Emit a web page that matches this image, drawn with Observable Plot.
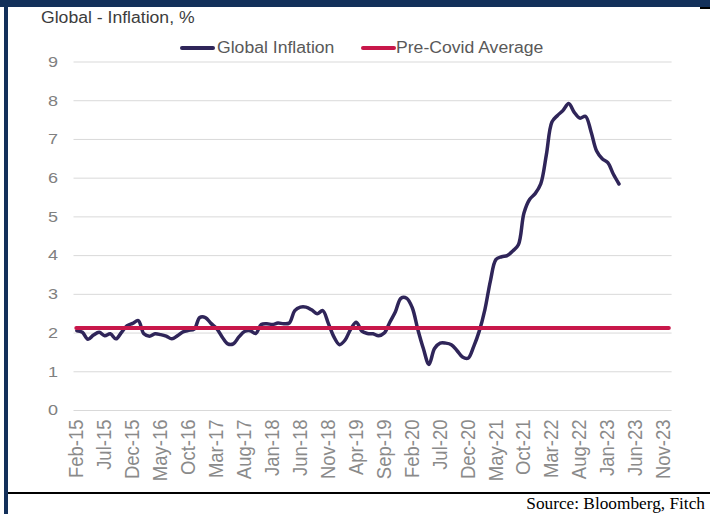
<!DOCTYPE html>
<html>
<head>
<meta charset="utf-8">
<script src="https://cdn.jsdelivr.net/npm/d3@7"></script>
<script src="https://cdn.jsdelivr.net/npm/@observablehq/plot@0.6"></script>
<style>
  body { margin: 0; background: #fff; }
  #wrap { position: relative; width: 710px; height: 514px; overflow: hidden; background: #fff;
          font-family: "Liberation Sans", Arial, sans-serif; }
  .abs { position: absolute; }
  .stretch { transform: scaleX(1.1); transform-origin: left center; white-space: nowrap; }
</style>
</head>
<body>
<div id="wrap">
  <div class="abs" style="left:0;top:0;width:710px;height:7px;background:#13305a"></div>
  <div class="abs" style="left:700px;top:7px;width:10px;height:2px;background:#000"></div>
  <div class="abs" style="left:4px;top:0;width:4px;height:514px;background:#13305a"></div>
  <div id="title" class="abs stretch" style="left:41px;top:9px;font-size:16px;line-height:18px;color:#3c3c3c"></div>
  <div id="legend"></div>
  <div id="chart" class="abs" style="left:0;top:50px"></div>
  <div class="abs" style="left:8px;top:492px;width:702px;height:2px;background:#000"></div>
  <div id="source" class="abs" style="right:5px;top:495px;font-family:'Liberation Serif','Times New Roman',serif;font-size:17.3px;line-height:18px;color:#000;white-space:nowrap"></div>
</div>
<script>
// ---- data ----
const titleText = "Global - Inflation, %";
const sourceText = "Source: Bloomberg, Fitch";
const seriesNames = ["Global Inflation", "Pre-Covid Average"];
const seriesColors = ["#2f2559", "#c8174a"];

// monthly categories Feb-15 .. Dec-23
const monthLabels = d3.utcMonth.range(new Date(Date.UTC(2015, 1, 1)), new Date(Date.UTC(2024, 0, 1)))
  .map(d3.utcFormat("%b-%y"));

const tickLabels = ["Feb-15","Jul-15","Dec-15","May-16","Oct-16","Mar-17","Aug-17","Jan-18","Jun-18","Nov-18",
  "Apr-19","Sep-19","Feb-20","Jul-20","Dec-20","May-21","Oct-21","Mar-22","Aug-22","Jan-23","Jun-23","Nov-23"];

const yTicks = [0, 1, 2, 3, 4, 5, 6, 7, 8, 9];

// Global inflation, % (Feb-15 .. Mar-23)
const inflation = [
  2.06, 2.02, 1.84, 1.95, 2.02, 1.93, 1.98, 1.85, 2.02, 2.19, 2.25, 2.32,   // Feb-15..Jan-16
  1.98, 1.92, 1.98, 1.96, 1.92, 1.85, 1.93, 2.03, 2.07, 2.10, 2.40, 2.40,   // Feb-16..Jan-17
  2.25, 2.12, 1.90, 1.72, 1.72, 1.90, 2.04, 2.06, 1.99, 2.22, 2.24, 2.22,   // Feb-17..Jan-18
  2.26, 2.24, 2.26, 2.58, 2.67, 2.67, 2.60, 2.50, 2.58, 2.25, 1.90, 1.70,   // Feb-18..Jan-19
  1.82, 2.10, 2.28, 2.05, 1.99, 1.98, 1.93, 2.00, 2.28, 2.55, 2.90, 2.90,   // Feb-19..Jan-20
  2.66, 2.10, 1.60, 1.19, 1.60, 1.74, 1.74, 1.70, 1.55, 1.38, 1.35, 1.65,   // Feb-20..Jan-21
  2.05, 2.60, 3.35, 3.90, 3.97, 4.00, 4.12, 4.28, 5.10, 5.45, 5.60, 5.85,   // Feb-21..Jan-22
  6.60, 7.45, 7.62, 7.75, 7.93, 7.70, 7.55, 7.60, 7.20, 6.70, 6.50, 6.40,   // Feb-22..Jan-23
  6.10, 5.85                                                                 // Feb-23..Mar-23
];
const preCovidAverage = 2.13;

// ---- text ----
document.getElementById("title").textContent = titleText;
document.getElementById("source").textContent = sourceText;

const legendPos = [{sw: 180, tx: 217}, {sw: 361, tx: 396}];
const legend = document.getElementById("legend");
seriesNames.forEach((name, k) => {
  const sw = document.createElement("div");
  sw.className = "abs";
  sw.style.cssText = `left:${legendPos[k].sw}px;top:46px;width:35px;height:4px;border-radius:2px;background:${seriesColors[k]}`;
  legend.appendChild(sw);
  const tx = document.createElement("div");
  tx.className = "abs stretch";
  tx.style.cssText = `left:${legendPos[k].tx}px;top:39px;font-size:16px;line-height:18px;color:#595959`;
  tx.textContent = name;
  legend.appendChild(tx);
});

// ---- chart ----
const tickIdx = tickLabels.map(l => monthLabels.indexOf(l));

const chart = Plot.plot({
  width: 710,
  height: 440,
  marginTop: 11.5,
  marginBottom: 80,
  marginLeft: 73.5,
  marginRight: 38.4,
  style: {fontFamily: "'Liberation Sans', Arial, sans-serif", background: "transparent", overflow: "visible"},
  x: {domain: [-0.5, monthLabels.length - 0.5]},
  y: {domain: [0, 9]},
  marks: [
    Plot.gridY(yTicks, {stroke: "#d9d9d9", strokeOpacity: 1, strokeWidth: 1}),
    Plot.axisY(yTicks, {tickSize: 0, tickPadding: 16, fontSize: 15, fill: "#808080", label: null}),
    Plot.axisX(tickIdx, {tickSize: 0, tickPadding: 9, tickRotate: -90, fontSize: 18.5, fill: "#8a8a8a",
      tickFormat: i => monthLabels[i], label: null}),
    Plot.line(inflation, {x: (d, i) => i, y: d => d, stroke: seriesColors[0], strokeWidth: 3.5,
      curve: "catmull-rom", strokeLinejoin: "round", strokeLinecap: "round"}),
    Plot.ruleY([preCovidAverage], {x1: 0, x2: monthLabels.length - 1, stroke: seriesColors[1], strokeWidth: 4,
      strokeLinecap: "round"})
  ]
});
document.getElementById("chart").appendChild(chart);

// slight horizontal stretch of tick labels, as in the reference
d3.select(chart).selectAll('g[aria-label="y-axis tick label"] text').each(function() {
  const t = this.getAttribute("transform") || "";
  this.setAttribute("transform", t + " scale(1.2,1)");
});
d3.select(chart).selectAll('g[aria-label="x-axis tick label"] text').each(function() {
  const t = this.getAttribute("transform") || "";
  this.setAttribute("transform", t.replace("rotate(", "scale(1.1,1) rotate("));
});
</script>
</body>
</html>
